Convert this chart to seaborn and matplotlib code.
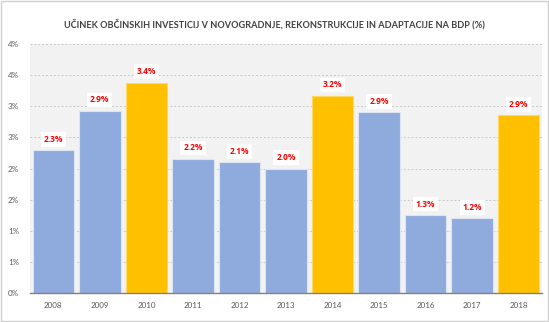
import matplotlib
matplotlib.use("Agg")
import matplotlib.pyplot as plt
import seaborn as sns
import pandas as pd
from matplotlib.patches import Rectangle

years = ["2008", "2009", "2010", "2011", "2012", "2013", "2014", "2015", "2016", "2017", "2018"]
values = [2.30, 2.93, 3.38, 2.16, 2.10, 2.00, 3.17, 2.91, 1.26, 1.21, 2.86]
highlight = [False, False, True, False, False, False, True, False, False, False, True]
ytick_values = [0, 0.5, 1.0, 1.5, 2.0, 2.5, 3.0, 3.5, 4.0]
ytick_labels = ["0%", "1%", "1%", "2%", "2%", "3%", "3%", "4%", "4%"]
title = "UČINEK OBČINSKIH INVESTICIJ V NOVOGRADNJE, REKONSTRUKCIJE IN ADAPTACIJE NA BDP (%)"

BLUE = "#8FAADC"
GOLD = "#FFC000"

sns.set_style("white")
plt.rcParams["font.family"] = ["Lato", "DejaVu Sans"]

df = pd.DataFrame({"year": years, "value": values, "hl": highlight})
colors = [GOLD if h else BLUE for h in highlight]

fig = plt.figure(figsize=(5.49, 3.22), dpi=100)
fig.patch.set_facecolor("white")
ax = fig.add_axes([30 / 549, (322 - 293.3) / 322, 512 / 549, (293.3 - 44) / 322])
ax.set_facecolor("#F2F2F2")

sns.barplot(data=df, x="year", y="value", hue="year", palette=colors, legend=False,
            width=0.89, ax=ax, edgecolor="#DDE5F3", linewidth=0.8, saturation=1)
for patch, h in zip(ax.patches, highlight):
    if h:
        patch.set_edgecolor("#FFD966")

ax.set_ylim(0, 4.0)
ax.set_xlim(-0.5, len(years) - 0.5)
ax.set_yticks(ytick_values)
ax.set_yticklabels(ytick_labels)
ax.yaxis.grid(True, color="#C8C8C8", linestyle=(0, (2, 2)), linewidth=0.7)
ax.set_axisbelow(True)
for s in ["top", "right", "left"]:
    ax.spines[s].set_visible(False)
ax.spines["bottom"].set_color("#808080")
ax.spines["bottom"].set_linewidth(1.0)
ax.tick_params(axis="both", length=0, labelsize=5.8, labelcolor="#595959", pad=6)
ax.tick_params(axis="y", pad=8)
ax.set_xlabel("")
ax.set_ylabel("")

for i, v in enumerate(values):
    ax.annotate(f"{v:.1f}%", (i, v), xytext=(0, 4.5), textcoords="offset points",
                ha="center", va="bottom", fontsize=6.0, fontweight="bold", color="#FF0000",
                family=["Open Sans", "DejaVu Sans"],
                bbox=dict(boxstyle="square,pad=0.35", facecolor="white", edgecolor="none"))

fig.text(0.5, 1 - 24 / 322, title, ha="center", va="center", fontsize=6.6,
         fontweight="bold", color="#404040")

fig.patches.append(Rectangle((0.002, 0.004), 0.996, 0.992, transform=fig.transFigure,
                             fill=False, edgecolor="#D0D0D0", linewidth=1.0))

fig.savefig("out.png", dpi=100)
